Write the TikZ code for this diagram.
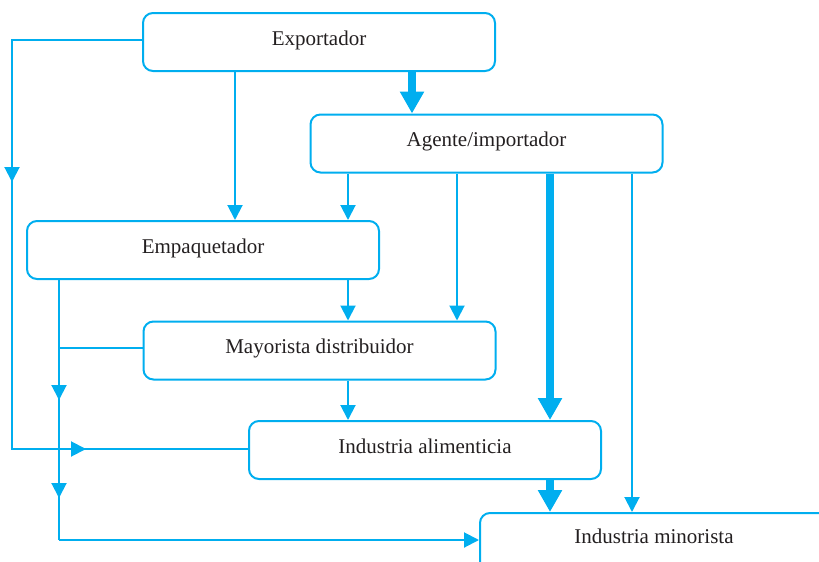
\documentclass[tikz,border=0pt]{standalone}
\usepackage{fontspec}
\setmainfont{Liberation Serif}
\usetikzlibrary{arrows.meta}
\definecolor{cy}{RGB}{0,174,239}
\definecolor{ink}{RGB}{35,31,32}
\begin{document}
\begin{tikzpicture}[x=1pt,y=-1pt,
  lbl/.style={font=\fontsize{21}{24}\selectfont, text=ink, text height=13pt, text depth=7pt},
  box/.style={draw=cy, line width=2pt, rounded corners=10pt, minimum width=352pt, minimum height=58pt, inner sep=0pt, lbl},
  conn/.style={draw=cy, line width=2pt},
  arr/.style={conn, -{Triangle[length=15pt,width=15pt]}},
  bigarr/.style={draw=cy, line width=8pt, -{Triangle[length=22pt,width=23pt]}}]
\useasboundingbox (0,0) rectangle (819,562);
\begin{scope}
\clip (0,0) rectangle (819,562);
\node[box] (exp) at (319,42) {Exportador};
\node[box] (age) at (486.5,143.5) {Agente/importador};
\node[box] (emp) at (203,250) {Empaquetador};
\node[box] (may) at (319.5,350.5) {Mayorista distribuidor};
\node[box] (ali) at (425,450) {Industria alimenticia};
\node[box, anchor=north west, minimum width=420pt, minimum height=120pt] (min) at (479,512) {};
\node[lbl] (mint) at (654,540) {Industria minorista};
\end{scope}
% column coordinates
\coordinate (x12) at (12,0);
\coordinate (x59) at (59,0);
\coordinate (x235) at (235,0);
\coordinate (x348) at (348,0);
\coordinate (x412) at (412,0);
\coordinate (x457) at (457,0);
\coordinate (x550) at (550,0);
\coordinate (x632) at (632,0);
% left loop Exportador -> Industria alimenticia
\coordinate (l1) at (12,40);
\coordinate (l2) at (12,449);
\draw[conn] (exp.west |- l1) -- (l1) -- (l2) -- (ali.west |- l2);
\coordinate (la1) at (12,165);
\coordinate (la2) at (12,182);
\draw[arr] (la1) -- (la2);
\coordinate (lb1) at (70,449);
\coordinate (lb2) at (86,449);
\draw[arr] (lb1) -- (lb2);
% Empaquetador -> Industria minorista
\coordinate (e1) at (59,540);
\draw[conn] (x59 |- emp.south) -- (e1);
\draw[arr] (e1) -- (min.west |- e1);
\coordinate (m1) at (59,348);
\draw[conn] (may.west |- m1) -- (m1);
\coordinate (ea1) at (59,384);
\coordinate (ea2) at (59,400);
\draw[arr] (ea1) -- (ea2);
\coordinate (eb1) at (59,482);
\coordinate (eb2) at (59,498);
\draw[arr] (eb1) -- (eb2);
% vertical connectors
\draw[arr] (x235 |- exp.south) -- (x235 |- emp.north);
\draw[bigarr] (x412 |- exp.south) -- (x412 |- age.north);
\draw[arr] (x348 |- age.south) -- (x348 |- emp.north);
\draw[arr] (x457 |- age.south) -- (x457 |- may.north);
\draw[bigarr] (x550 |- age.south) -- (x550 |- ali.north);
\draw[arr] (x632 |- age.south) -- (x632 |- min.north);
\draw[arr] (x348 |- emp.south) -- (x348 |- may.north);
\draw[arr] (x348 |- may.south) -- (x348 |- ali.north);
\draw[bigarr] (x550 |- ali.south) -- (x550 |- min.north);
\end{tikzpicture}
\end{document}
